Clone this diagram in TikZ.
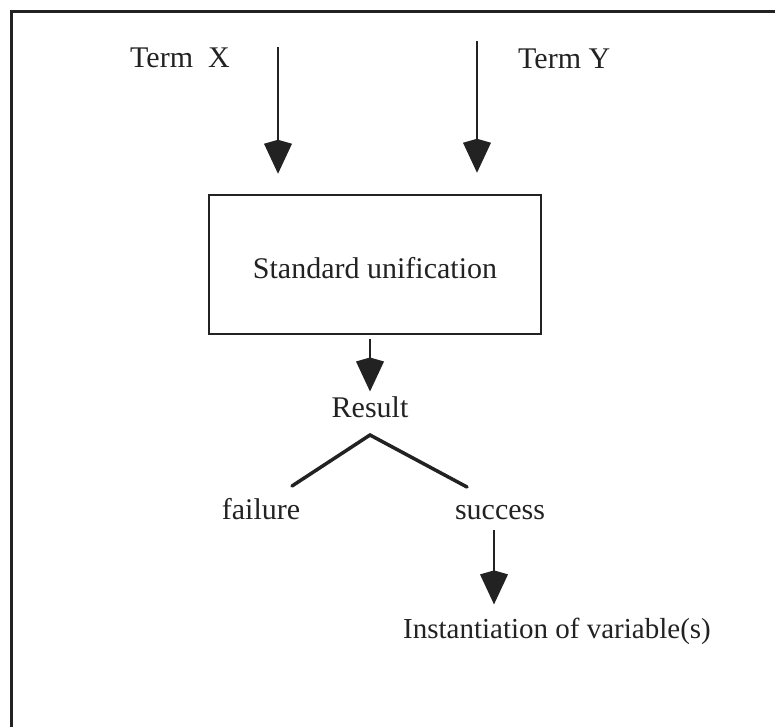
\documentclass[tikz,border=0pt]{standalone}
\usepackage{fontspec}
\setmainfont{Liberation Serif}
\usetikzlibrary{arrows.meta,calc}
\definecolor{ink}{RGB}{34,34,34}
\begin{document}
\begin{tikzpicture}[x=1pt,y=-1pt,
  lbl/.style={inner sep=0pt, text=ink, font=\fontsize{30}{36}\selectfont},
  flow/.style={draw=ink, line width=2pt, -{Kite[length=34pt,width=28pt,inset=4pt]}},
  procbox/.style={draw=ink, line width=2.5pt, minimum width=332pt, minimum height=139pt, inner sep=0pt,
    text height=27.5pt, text depth=0pt},
  branch/.style={draw=ink, line width=3.5pt, line cap=round, line join=miter}]
% page area and the surrounding frame
\path[use as bounding box, clip] (0,0) rectangle (775,726);
\draw[ink, line width=3pt] (11.5,11) rectangle (800,760);

% inputs
\node[lbl, anchor=base west] (tx) at (130,67) {Term\ \ X};
\node[lbl, anchor=base west] (ty) at (518,68) {Term Y};
\coordinate (xin) at (278,47);
\coordinate (yin) at (477,41);

% unification step
\node[procbox] (box) at (375,264.5) {\fontsize{30}{36}\selectfont\color{ink}Standard unification};
\draw[flow, shorten >=20pt] (xin) -- (xin |- box.north);
\draw[flow, shorten >=21pt] (yin) -- (yin |- box.north);

% result and its two outcomes
\node[lbl, anchor=base] (res) at (370,417) {Result};
\draw[flow, shorten <=4pt, shorten >=4.5pt] (res.north |- box.south) -- (res.north);

\node[lbl, anchor=base] (fail) at (261,519) {failure};
\node[lbl, anchor=base] (succ) at (500,519) {success};
\coordinate (apex) at (370,435);
\coordinate (lft) at (292,486);
\coordinate (rgt) at (467,487);
\draw[branch] (lft) -- (apex) -- (rgt);

% outcome of a successful unification
\node[inner sep=0pt, text=ink, font=\fontsize{29}{35}\selectfont, anchor=base west] (inst) at (403,638) {Instantiation of variable(s)};
\coordinate (sfoot) at (494,530);
\draw[flow, shorten >=13pt] (sfoot) -- (sfoot |- inst.north);
\end{tikzpicture}
\end{document}
